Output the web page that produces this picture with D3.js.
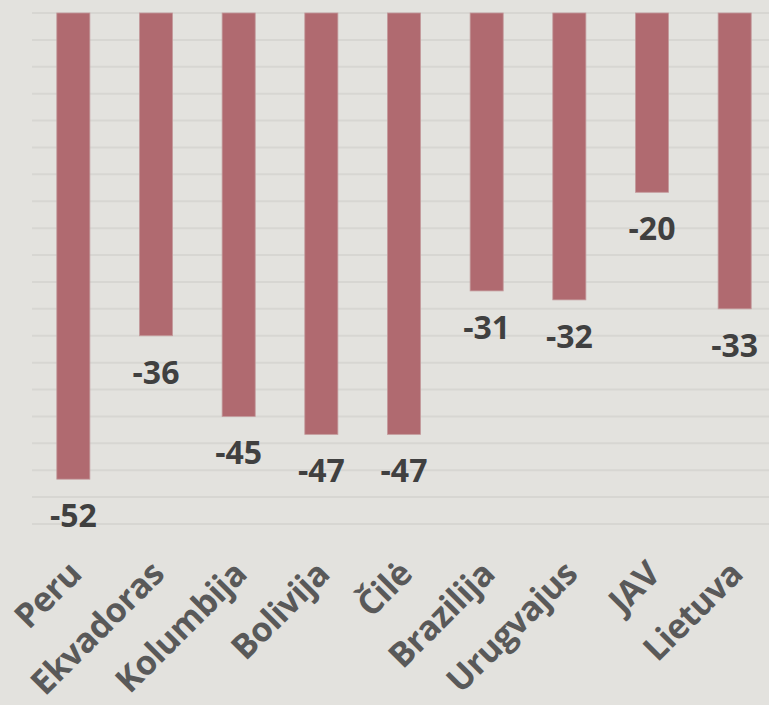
<!DOCTYPE html>
<html><head><meta charset="utf-8">
<script src="https://cdn.jsdelivr.net/npm/d3@7"></script>
<style>
html,body{margin:0;padding:0;background:#e3e2de;overflow:hidden}
svg{display:block}
</style></head>
<body>
<script>
const categories = ["Peru","Ekvadoras","Kolumbija","Bolivija","Čilė","Brazilija","Urugvajus","JAV","Lietuva"];
const values = [-52,-36,-45,-47,-47,-31,-32,-20,-33];
const gridTicks = d3.range(0, -58, -3);

const W = 769, H = 705;
const svg = d3.select("body").append("svg").attr("width", W).attr("height", H);
svg.append("rect").attr("width", W).attr("height", H).attr("fill", "#e3e2de");

const x = d3.scaleBand().domain(categories).range([32, 776]).paddingInner(0.6).paddingOuter(0.3);
const y = d3.scaleLinear().domain([0, -57]).range([13, 524]);

// gridlines
svg.append("g").selectAll("line").data(gridTicks).join("line")
  .attr("x1", 32).attr("x2", W)
  .attr("y1", d => y(d)).attr("y2", d => y(d))
  .attr("stroke", "#d7d6d2").attr("stroke-width", 2);

// bars
svg.append("g").selectAll("rect").data(values).join("rect")
  .attr("x", (d,i) => x(categories[i]))
  .attr("width", x.bandwidth())
  .attr("y", y(0))
  .attr("height", d => y(d) - y(0))
  .attr("fill", "#b06a70")
  .attr("stroke", "#c49a9c").attr("stroke-width", 0.8);

// value labels
svg.append("g").selectAll("text").data(values).join("text")
  .attr("x", (d,i) => x(categories[i]) + x.bandwidth()/2)
  .attr("y", d => y(d) + 48)
  .attr("text-anchor", "middle")
  .attr("font-family", "'Open Sans', sans-serif")
  .attr("font-weight", 700)
  .attr("font-size", 32)
  .attr("fill", "#404040")
  .text(d => d);

// category labels via axis
const xAxis = svg.append("g").attr("transform", "translate(0,576)")
  .call(d3.axisBottom(x).tickSize(0).tickPadding(0));
xAxis.select(".domain").remove();
xAxis.selectAll("text")
  .attr("font-family", "'Open Sans', sans-serif")
  .attr("font-weight", 700)
  .attr("font-size", 34)
  .attr("letter-spacing", -0.5)
  .attr("fill", "#595959")
  .attr("text-anchor", "end")
  .attr("dy", 0)
  .attr("transform", "translate(10,0) rotate(-45)");
</script>
</body></html>
